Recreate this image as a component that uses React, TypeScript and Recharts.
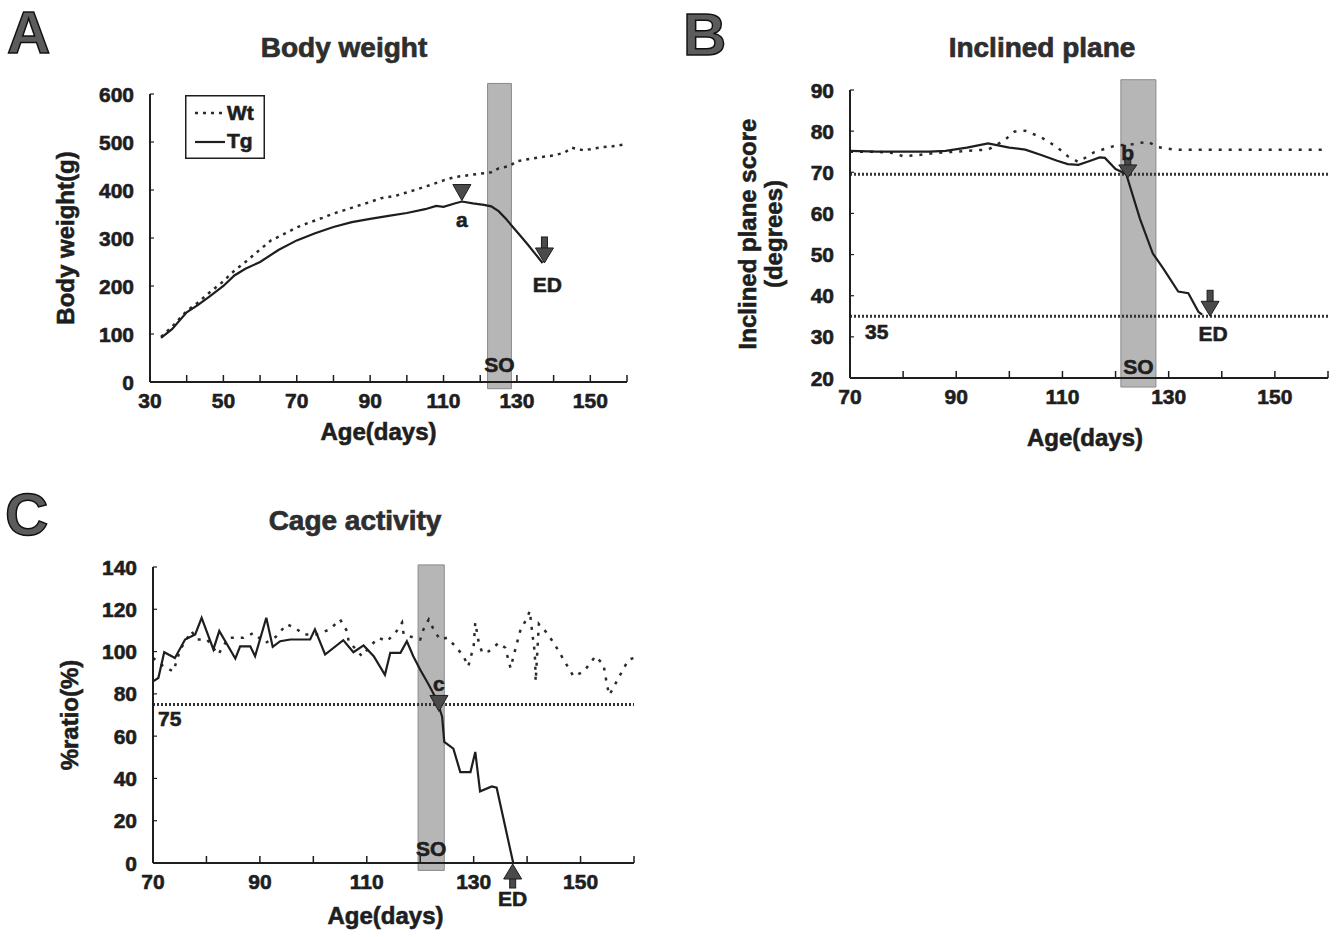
import React from "react";
import { LineChart, Line, XAxis, YAxis, ReferenceArea, ReferenceLine, ReferenceDot, Legend } from "recharts";

const FONT = '"Liberation Sans", Arial, Helvetica, sans-serif';
const INK = "#1e1e1e";
const DOTS = "#2a2a2a";
const BAND = "#a4a4a4";

// A — body weight (g) vs age (days)
const bwWtDays = [33, 36, 40, 43, 46, 50, 53, 56, 60, 63, 67, 70, 73, 77, 80, 83, 87, 90, 93, 97, 100, 103, 107, 110, 113, 117, 120, 123, 125, 128, 130, 133, 136, 140, 143, 145, 148, 150, 153, 156, 160];
const bwWtValues = [94, 115, 148, 165, 185, 210, 232, 250, 276, 295, 310, 322, 331, 342, 351, 358, 368, 375, 383, 388, 395, 402, 412, 420, 427, 431, 434, 437, 445, 450, 460, 464, 468, 472, 478, 488, 483, 485, 489, 491, 496];
const bwTgDays = [33, 36, 40, 43, 46, 50, 53, 56, 60, 65, 70, 75, 80, 85, 90, 95, 100, 105, 108, 110, 113, 115, 118, 121, 123, 125, 127, 129, 131, 133, 135, 137];
const bwTgValues = [92, 110, 145, 160, 177, 200, 222, 236, 250, 275, 295, 310, 323, 333, 340, 346, 352, 360, 367, 365, 372, 376, 372, 369, 366, 356, 340, 322, 304, 286, 267, 248];
const bwXTicks = [30, 40, 50, 60, 70, 80, 90, 100, 110, 120, 130, 140, 150, 160];
const bwXLabels = [30, 50, 70, 90, 110, 130, 150];
const bwYTicks = [0, 100, 200, 300, 400, 500, 600];

// B — inclined plane score (degrees)
const ipWtDays = [70, 72, 75, 78, 80, 83, 86, 90, 93, 96, 99, 101, 103, 106, 109, 111, 113, 116, 118, 120, 124, 126, 128, 131, 135, 140, 145, 150, 155, 160];
const ipWtValues = [75, 75, 75, 74.7, 73.9, 74.2, 74.7, 75, 75.3, 75.5, 77.7, 79.9, 80.1, 78.5, 76.1, 73.9, 72.5, 74.9, 75.7, 76.5, 76.9, 77.5, 76.1, 75.5, 75.5, 75.5, 75.5, 75.5, 75.5, 75.5];
const ipTgDays = [70, 75, 80, 85, 88, 92, 96, 100, 103, 106, 109, 111, 113, 115, 117, 118, 120, 122, 124.6, 127, 129, 131.8, 133.7, 135.6, 136.3];
const ipTgValues = [75.2, 75, 75, 75, 75.2, 76, 77, 76, 75.5, 74.2, 72.8, 72, 71.8, 72.7, 73.6, 73.5, 70.8, 69.6, 58.7, 50.3, 46.6, 41, 40.6, 36.1, 35.4];
const ipXTicks = [70, 80, 90, 100, 110, 120, 130, 140, 150, 160];
const ipXLabels = [70, 90, 110, 130, 150];
const ipYTicks = [20, 30, 40, 50, 60, 70, 80, 90];

// C — cage activity (% ratio)
const caWtDays = [70, 72, 73.8, 75.1, 77.2, 78.2, 80.1, 82.2, 84.1, 86.9, 88.8, 91, 93, 95, 96.6, 98.1, 100.6, 103.1, 105, 106.3, 106.6, 109.1, 110.6, 112.2, 113.8, 115.6, 116.6, 116.9, 120, 120.6, 121.6, 122.5, 123.7, 125, 126.6, 128.1, 129, 130, 130.3, 130.9, 131.6, 132.8, 134.7, 135.9, 136.9, 138.1, 138.7, 140, 140.5, 141, 141.3, 141.5, 141.6, 142.2, 143.4, 145, 147.2, 148.7, 150.6, 152.8, 154.3, 155, 155.4, 157.1, 158.1, 159, 160];
const caWtValues = [97, 93, 90.6, 101, 109.7, 105.7, 105.7, 98.6, 106.5, 106.5, 108.8, 104, 107, 112.9, 111.3, 108.1, 108.1, 110.5, 115.2, 109.7, 104.9, 97.8, 102.5, 106.5, 104.9, 109.7, 113.7, 108.1, 105.7, 110.5, 115.2, 110.5, 105.7, 106.5, 102.5, 97.8, 93, 102.5, 113.7, 105, 99.4, 100.1, 104.1, 101.8, 92.2, 104.1, 109.7, 116, 119.2, 108, 102.5, 96, 86, 113, 109.7, 104.1, 94.6, 88.2, 90.6, 97.8, 93.8, 83.5, 79.5, 87.5, 92.2, 96.2, 97];
const caTgDays = [70, 71, 72.1, 74.1, 76, 77.9, 79.1, 81.3, 82.4, 85.4, 86.3, 88.2, 89.1, 91.2, 92.4, 93.8, 95.7, 99.4, 100.3, 102.2, 105.6, 107.5, 109.4, 111.3, 113.4, 114.4, 116.3, 117.5, 118.7, 120, 121.6, 123.1, 124.1, 124.5, 126.2, 127.5, 129.4, 130.3, 131.2, 133.4, 134.3, 137.4];
const caTgValues = [85.9, 87.5, 99.7, 97, 105.7, 108.1, 116, 101, 109.7, 96.7, 102.5, 102.5, 97.8, 116, 102.2, 104.9, 105.7, 105.7, 110.5, 98.6, 105.4, 99.7, 102.9, 97.8, 89, 99.4, 99.4, 104.9, 97.8, 91.4, 84.3, 77.1, 69.2, 57.3, 54.1, 43, 43, 52.5, 33.9, 36.2, 35.6, 0];
const caXTicks = [70, 80, 90, 100, 110, 120, 130, 140, 150, 160];
const caXLabels = [70, 90, 110, 130, 150];
const caYTicks = [0, 20, 40, 60, 80, 100, 120, 140];

const toPoints = (days: number[], values: number[]) => days.map((day, i) => ({ day, value: values[i] }));

// scanned print looks heavy, so give the bold text a thin outline too
const txt = { fontFamily: FONT, fontWeight: 700, fill: INK, stroke: INK, strokeWidth: 0.6 } as const;
const AXIS = { stroke: INK, strokeWidth: 2 };

// ticks point into the plot, labels only on every other one
const xTick = (labels: number[]) => (p: any) => (
  <g>
    <line x1={p.x} x2={p.x} y1={p.y} y2={p.y - 7} stroke={INK} strokeWidth={1.5} />
    {labels.includes(p.payload.value) && (
      <text x={p.x} y={p.y + 26} textAnchor="middle" fontSize={21} {...txt}>{p.payload.value}</text>
    )}
  </g>
);

const yTick = (p: any) => (
  <g>
    <line x1={p.x} x2={p.x + 4} y1={p.y} y2={p.y} stroke={INK} strokeWidth={1.2} />
    <text x={p.x - 16} y={p.y} dy="0.36em" textAnchor="end" fontSize={21} {...txt}>{p.payload.value}</text>
  </g>
);

const xTitle = (dx: number, dy: number) => (p: any) => {
  const vb = p.viewBox;
  return <text x={vb.x + vb.width / 2 + dx} y={vb.y + dy} textAnchor="middle" fontSize={24} {...txt}>Age(days)</text>;
};

const yTitle = (lines: string[], offsets: number[]) => (p: any) => {
  const vb = p.viewBox;
  const cy = vb.y + vb.height / 2;
  return (
    <g>
      {lines.map((t, i) => {
        const cx = vb.x + vb.width - offsets[i];
        return (
          <text key={t} x={cx} y={cy} dy="0.35em" transform={`rotate(-90 ${cx} ${cy})`} textAnchor="middle" fontSize={24} {...txt}>{t}</text>
        );
      })}
    </g>
  );
};

const soLabel = (off: number) => (p: any) => {
  const vb = p.viewBox;
  return <text x={vb.x + vb.width / 2} y={vb.y + vb.height - off} textAnchor="middle" fontSize={21} {...txt}>SO</text>;
};

const cutLabel = (value: string, dx: number, dy: number) => (p: any) => {
  const vb = p.viewBox;
  return <text x={vb.x + dx} y={vb.y + dy} fontSize={21} {...txt}>{value}</text>;
};

const tri = (cx: number, tipY: number, dir: "down" | "up", w = 9, h = 16) =>
  dir === "down"
    ? `M${cx - w},${tipY - h} L${cx + w},${tipY - h} L${cx},${tipY} Z`
    : `M${cx - w},${tipY + h} L${cx + w},${tipY + h} L${cx},${tipY} Z`;

const ARROW = { fill: "#4a4a4a", stroke: INK, strokeWidth: 1 };

const markDown = (label: string, tip: number, labelDy: number) => (p: any) => (
  <g>
    <path d={tri(p.cx, p.cy + tip, "down")} {...ARROW} />
    <text x={p.cx} y={p.cy + labelDy} textAnchor="middle" fontSize={21} {...txt}>{label}</text>
  </g>
);

const arrowDown = (label: string, labelDx: number, labelDy: number) => (p: any) => (
  <g>
    <rect x={p.cx - 3} y={p.cy - 26} width={6} height={13} {...ARROW} />
    <path d={tri(p.cx, p.cy, "down", 9, 15)} {...ARROW} />
    <text x={p.cx + labelDx} y={p.cy + labelDy} textAnchor="middle" fontSize={21} {...txt}>{label}</text>
  </g>
);

const arrowUp = (label: string, labelDy: number) => (p: any) => (
  <g>
    <rect x={p.cx - 3} y={p.cy + 13} width={6} height={12} {...ARROW} />
    <path d={tri(p.cx, p.cy + 1, "up", 9, 15)} {...ARROW} />
    <text x={p.cx} y={p.cy + labelDy} textAnchor="middle" fontSize={21} {...txt}>{label}</text>
  </g>
);

const LegendBox = () => (
  <svg width={80} height={64} style={{ display: "block" }}>
    <rect x={0.75} y={0.75} width={78.5} height={62.5} fill="#fff" stroke={INK} strokeWidth={1.5} />
    <line x1={10} x2={38} y1={18} y2={18} stroke={DOTS} strokeWidth={2.5} strokeDasharray="3 5" />
    <text x={42} y={25} fontSize={21} {...txt}>Wt</text>
    <line x1={10} x2={40} y1={47} y2={47} stroke={INK} strokeWidth={2.2} />
    <text x={42} y={53} fontSize={21} {...txt}>Tg</text>
  </svg>
);

function BodyWeightChart() {
  return (
    <LineChart width={660} height={470} margin={{ top: 94, right: 33, bottom: 28, left: 40 }}>
      <XAxis type="number" dataKey="day" domain={[30, 160]} ticks={bwXTicks} interval={0} height={60}
        tickSize={0} tickMargin={0} tickLine={false} tick={xTick(bwXLabels)} axisLine={AXIS} label={xTitle(-10, 58)} />
      <YAxis type="number" dataKey="value" domain={[0, 600]} ticks={bwYTicks} interval={0} width={110}
        tickSize={0} tickMargin={0} tickLine={false} tick={yTick} axisLine={AXIS} label={yTitle(["Body weight(g)"], [84])} />
      <Legend layout="horizontal" verticalAlign="middle" align="center" content={() => <LegendBox />}
        wrapperStyle={{ left: 185, top: 95, width: 80, height: 64 }} />
      <Line data={toPoints(bwWtDays, bwWtValues)} dataKey="value" type="linear" stroke={DOTS} strokeWidth={2.5}
        strokeDasharray="3 5" dot={false} isAnimationActive={false} />
      <Line data={toPoints(bwTgDays, bwTgValues)} dataKey="value" type="linear" stroke={INK} strokeWidth={2.2}
        dot={false} isAnimationActive={false} />
      <ReferenceArea x1={122} x2={128.5} y1={-14} y2={622} ifOverflow="visible" fill={BAND} fillOpacity={0.8}
        stroke="#8a8a8a" label={soLabel(17)} />
      <ReferenceDot x={115} y={376} r={0} shape={markDown("a", -1, 25)} />
      <ReferenceDot x={137.5} y={248} r={0} shape={arrowDown("ED", 3, 29)} />
    </LineChart>
  );
}

function InclinedPlaneChart() {
  return (
    <LineChart width={678} height={470} margin={{ top: 90, right: 10, bottom: 32, left: 60 }}>
      <XAxis type="number" dataKey="day" domain={[70, 160]} ticks={ipXTicks} interval={0} height={60}
        tickSize={0} tickMargin={0} tickLine={false} tick={xTick(ipXLabels)} axisLine={AXIS} label={xTitle(-4, 68)} />
      <YAxis type="number" dataKey="value" domain={[20, 90]} ticks={ipYTicks} interval={0} width={130}
        tickSize={0} tickMargin={0} tickLine={false} tick={yTick} axisLine={AXIS}
        label={yTitle(["Inclined plane score", "(degrees)"], [102, 76])} />
      <ReferenceLine y={69.5} stroke="#333" strokeWidth={3} strokeDasharray="2 2" />
      <ReferenceLine y={35} stroke="#333" strokeWidth={3} strokeDasharray="2 2" label={cutLabel("35", 15, 23)} />
      <Line data={toPoints(ipWtDays, ipWtValues)} dataKey="value" type="linear" stroke={DOTS} strokeWidth={2.5}
        strokeDasharray="3 7" dot={false} isAnimationActive={false} />
      <Line data={toPoints(ipTgDays, ipTgValues)} dataKey="value" type="linear" stroke={INK} strokeWidth={2.2}
        dot={false} isAnimationActive={false} />
      <ReferenceArea x1={121} x2={127.6} y1={17.8} y2={92.5} ifOverflow="visible" fill={BAND} fillOpacity={0.8}
        stroke="#8a8a8a" label={soLabel(13)} />
      <ReferenceDot x={122.3} y={69.6} r={0} shape={(p: any) => (
        <g>
          <rect x={p.cx - 3} y={p.cy - 16} width={6} height={8} {...ARROW} />
          <path d={tri(p.cx, p.cy + 4, "down", 9, 13)} {...ARROW} />
          <text x={p.cx} y={p.cy - 14} textAnchor="middle" fontSize={21} {...txt}>b</text>
        </g>
      )} />
      <ReferenceDot x={137.8} y={35} r={0} shape={arrowDown("ED", 3, 25)} />
    </LineChart>
  );
}

function CageActivityChart() {
  return (
    <LineChart width={660} height={467} margin={{ top: 97, right: 26, bottom: 24, left: 40 }}>
      <XAxis type="number" dataKey="day" domain={[70, 160]} ticks={caXTicks} interval={0} height={50}
        tickSize={0} tickMargin={0} tickLine={false} tick={xTick(caXLabels)} axisLine={AXIS} label={xTitle(-8, 61)} />
      <YAxis type="number" dataKey="value" domain={[0, 140]} ticks={caYTicks} interval={0} width={113}
        tickSize={0} tickMargin={0} tickLine={false} tick={yTick} axisLine={AXIS} label={yTitle(["%ratio(%)"], [83])} />
      <ReferenceLine y={75} stroke="#333" strokeWidth={3} strokeDasharray="2 2" label={cutLabel("75", 5, 22)} />
      <Line data={toPoints(caWtDays, caWtValues)} dataKey="value" type="linear" stroke={DOTS} strokeWidth={2.5}
        strokeDasharray="3 7" dot={false} isAnimationActive={false} />
      <Line data={toPoints(caTgDays, caTgValues)} dataKey="value" type="linear" stroke={INK} strokeWidth={2.2}
        dot={false} isAnimationActive={false} />
      <ReferenceArea x1={119.6} x2={124.5} y1={-3.5} y2={141} ifOverflow="visible" fill={BAND} fillOpacity={0.8}
        stroke="#8a8a8a" label={soLabel(14)} />
      <ReferenceDot x={123.5} y={75} r={0} shape={markDown("c", 7, -13)} />
      <ReferenceDot x={137.3} y={0} r={0} shape={arrowUp("ED", 43)} />
    </LineChart>
  );
}

const letter = { fontFamily: FONT, fontWeight: 900, fontSize: 60, fill: "#5c5c5c", stroke: "#111", strokeWidth: 1.5 };
const title = { fontFamily: FONT, fontWeight: 700, fontSize: 28, fill: "#2e2e2e", stroke: "#2e2e2e", strokeWidth: 0.7, textAnchor: "middle" as const };

export default function App() {
  return (
    <div style={{ position: "absolute", left: 0, top: 0, width: 1338, height: 937, background: "#fff" }}>
      <div style={{ position: "absolute", left: 0, top: 0 }}><BodyWeightChart /></div>
      <div style={{ position: "absolute", left: 660, top: 0 }}><InclinedPlaneChart /></div>
      <div style={{ position: "absolute", left: 0, top: 470 }}><CageActivityChart /></div>
      <svg width={1338} height={937} style={{ position: "absolute", left: 0, top: 0, pointerEvents: "none" }}>
        <text x={7} y={53} {...letter}>A</text>
        <text x={344} y={57} {...title}>Body weight</text>
        <text x={683} y={55} {...letter}>B</text>
        <text x={1042} y={57} {...title}>Inclined plane</text>
        <text x={5} y={535} {...letter}>C</text>
        <text x={355} y={530} {...title}>Cage activity</text>
      </svg>
    </div>
  );
}
